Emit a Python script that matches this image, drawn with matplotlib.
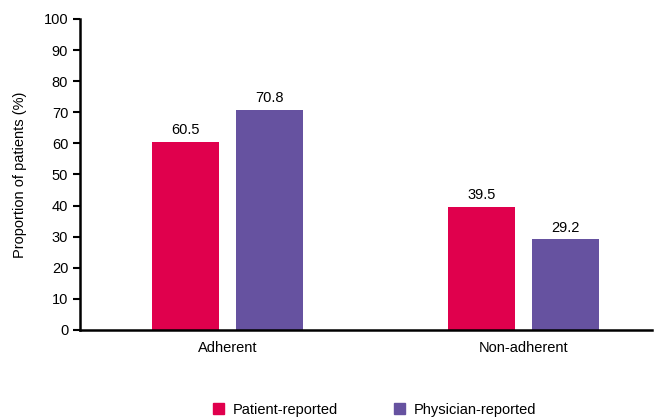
import matplotlib.pyplot as plt
import numpy as np
from matplotlib.patches import Patch

plt.rcParams['font.family'] = ['Liberation Sans', 'DejaVu Sans']
plt.rcParams['font.size'] = 10.5

categories = ['Adherent', 'Non-adherent']
series_names = ['Patient-reported', 'Physician-reported']
patient_vals = [60.5, 39.5]
physician_vals = [70.8, 29.2]
colors = ['#E0004D', '#6652A0']

fig = plt.figure(figsize=(6.63, 4.2), dpi=100)
ax = fig.add_axes([0.1207, 0.2143, 0.8623, 0.7405])

x = np.arange(len(categories))
w = 0.226
off = 0.142
b1 = ax.bar(x - off, patient_vals, w, color=colors[0])
b2 = ax.bar(x + off, physician_vals, w, color=colors[1])

for bars, vals in [(b1, patient_vals), (b2, physician_vals)]:
    for rect, v in zip(bars, vals):
        ax.text(rect.get_x() + rect.get_width() / 2, v + 1.5, f'{v:.1f}',
                ha='center', va='bottom', fontsize=10.5)

ax.set_xlim(-0.498, 1.434)
ax.set_ylim(0, 100)
ax.set_yticks(range(0, 101, 10))
ax.set_xticks(x)
ax.set_xticklabels(categories)
ax.tick_params(axis='x', length=0, pad=8)
ax.tick_params(axis='y', length=5, width=1.5, direction='out')
for s in ['top', 'right']:
    ax.spines[s].set_visible(False)
for s in ['left', 'bottom']:
    ax.spines[s].set_linewidth(1.8)
ax.set_ylabel('Proportion of patients (%)', labelpad=12)

handles = [Patch(color=c, label=n) for c, n in zip(colors, series_names)]
fig.legend(handles=handles, loc='center', bbox_to_anchor=(0.565, 0.024),
           ncol=2, frameon=False, handlelength=0.75, handleheight=0.75,
           columnspacing=3.8, handletextpad=0.6, fontsize=10.5)

fig.savefig('out.png', dpi=100)
